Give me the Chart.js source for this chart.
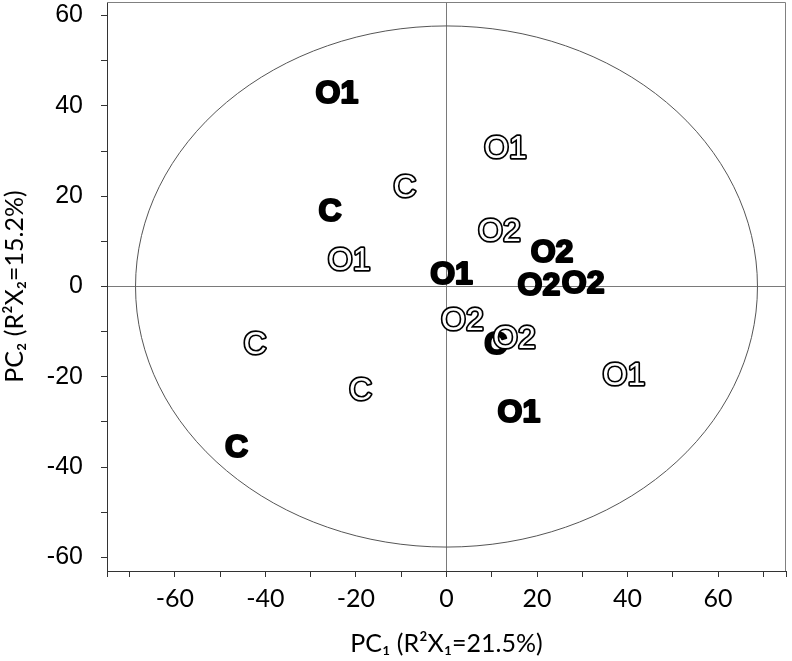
<!DOCTYPE html>
<html><head><meta charset="utf-8">
<script src="https://cdn.jsdelivr.net/npm/chart.js@4.4.1/dist/chart.umd.min.js"></script>
<style>html,body{margin:0;padding:0;background:#fff;}#wrap{width:792px;height:661px;}</style>
</head><body><div id="wrap"><canvas id="c" width="792" height="661"></canvas></div>
<script>
// ---- data ----
const boldLabels = ['O1','C','O1','O2','O2','O2','C','O1','C'];
const boldX      = [-24.2,-25.7, 1.1, 23.3, 20.4, 30.2, 10.9, 16.0,-46.4];
const boldY      = [ 43.1, 17.1, 3.2,  7.9,  0.6,  1.0,-12.4,-27.5,-35.2];

const outlineLabels = ['O1','C','O2','O1','O2','O2','C','C','O1'];
const outlineX      = [13.0,-9.2,11.7,-21.5, 3.5, 15.0,-42.3,-19.0, 39.2];
const outlineY      = [30.9,22.4,12.6,  6.1,-7.1,-11.1,-12.5,-22.6,-19.3];

const xTickValues = [-75,-70,-60,-50,-40,-30,-20,-10,0,10,20,30,40,50,60,70,75];
const yTickValues = [-60,-50,-40,-30,-20,-10,0,10,20,30,40,50,60];
const xTickLabels = [-60,-40,-20,0,20,40,60];
const yTickLabels = [-60,-40,-20,0,20,40,60];
const xTitle = 'PC\u2081 (R\u00B2X\u2081=21.5%)';
const yTitle = 'PC\u2082 (R\u00B2X\u2082=15.2%)';
const ellipseA = 68.7;  // semi-axis along PC1
const ellipseB = 57.7;  // semi-axis along PC2

// ---- drawing helpers ----
const framePlugin = {
  id: 'frameEllipse',
  beforeDatasetsDraw(chart) {
    const {ctx, chartArea: a, scales: {x, y}} = chart;
    ctx.save();
    ctx.strokeStyle = '#808080';
    ctx.lineWidth = 1;
    ctx.beginPath();
    ctx.moveTo(a.left, a.top + 0.5);
    ctx.lineTo(a.right - 0.5, a.top + 0.5);
    ctx.lineTo(a.right - 0.5, a.bottom);
    ctx.stroke();
    const cx = x.getPixelForValue(0), cy = y.getPixelForValue(0);
    const rx = Math.abs(x.getPixelForValue(ellipseA) - cx);
    const ry = Math.abs(y.getPixelForValue(ellipseB) - cy);
    ctx.strokeStyle = '#555';
    ctx.beginPath();
    ctx.ellipse(cx, cy, rx, ry, 0, 0, Math.PI * 2);
    ctx.stroke();
    ctx.restore();
  },
  afterDatasetsDraw(chart) {
    const ctx = chart.ctx;
    chart.data.datasets.forEach((ds, i) => {
      const meta = chart.getDatasetMeta(i);
      meta.data.forEach((pt, j) => {
        const t = ds.pointText[j];
        const fs = 32;
        ctx.save();
        ctx.textAlign = 'center';
        ctx.textBaseline = 'alphabetic';
        const yy = pt.y + fs * 0.358;
        ctx.lineJoin = 'round';
        if (ds.textStyle === 'bold') {
          ctx.font = 'bold ' + fs + 'px "Liberation Sans", Arial, sans-serif';
          ctx.fillStyle = '#000';
          ctx.strokeStyle = '#000';
          ctx.lineWidth = 2.2;
          ctx.strokeText(t, pt.x, yy);
          ctx.fillText(t, pt.x, yy);
        } else {
          ctx.font = fs + 'px "Liberation Sans", Arial, sans-serif';
          ctx.strokeStyle = '#000';
          ctx.lineWidth = 3.4;
          ctx.strokeText(t, pt.x, yy);
          ctx.fillStyle = '#fff';
          ctx.fillText(t, pt.x, yy);
        }
        ctx.restore();
      });
    });
  }
};

const zeroGrid = c => (c.tick && c.tick.value === 0) ? '#7a7a7a' : 'rgba(0,0,0,0)';

new Chart(document.getElementById('c'), {
  type: 'scatter',
  data: {
    datasets: [
      { label: 'bold', textStyle: 'bold', pointText: boldLabels,
        data: boldX.map((v, i) => ({x: v, y: boldY[i]})), pointRadius: 0, pointHoverRadius: 0 },
      { label: 'outline', textStyle: 'outline', pointText: outlineLabels,
        data: outlineX.map((v, i) => ({x: v, y: outlineY[i]})), pointRadius: 0, pointHoverRadius: 0 }
    ]
  },
  options: {
    responsive: false,
    animation: false,
    devicePixelRatio: 1,
    layout: { padding: { top: 2, right: 6, left: 0, bottom: 0 } },
    plugins: { legend: { display: false }, tooltip: { enabled: false } },
    scales: {
      x: {
        type: 'linear', min: -75, max: 75,
        afterBuildTicks: s => { s.ticks = xTickValues.map(v => ({value: v})); },
        afterFit: s => { s.height = 90; s.paddingLeft = 0; s.paddingRight = 0; },
        ticks: {
          autoSkip: false, maxRotation: 0,
          callback: v => xTickLabels.includes(v) ? String(v) : '',
          font: { family: 'Lato', size: 25 }, color: '#000', padding: 7
        },
        grid: { color: zeroGrid, tickColor: '#333', tickLength: 6, lineWidth: 1 },
        border: { color: '#333', width: 1 },
        title: { display: true, text: xTitle, font: { family: 'Lato', size: 25 }, color: '#000',
                 padding: { top: 4, bottom: 2 } }
      },
      y: {
        type: 'linear', min: -63, max: 63,
        afterBuildTicks: s => { s.ticks = yTickValues.map(v => ({value: v})); },
        afterFit: s => { s.width = 107; s.paddingTop = 0; s.paddingBottom = 0; },
        ticks: {
          autoSkip: false,
          callback: v => yTickLabels.includes(v) ? String(v) : '',
          font: { family: '"Liberation Sans", Arial', size: 25 }, color: '#000', padding: 18
        },
        grid: { color: zeroGrid, tickColor: '#333', tickLength: 6, lineWidth: 1 },
        border: { color: '#333', width: 1 },
        title: { display: true, text: yTitle, font: { family: 'Lato', size: 25 }, color: '#000',
                 padding: { top: 0, bottom: 0 } }
      }
    }
  },
  plugins: [framePlugin]
});
</script></body></html>
